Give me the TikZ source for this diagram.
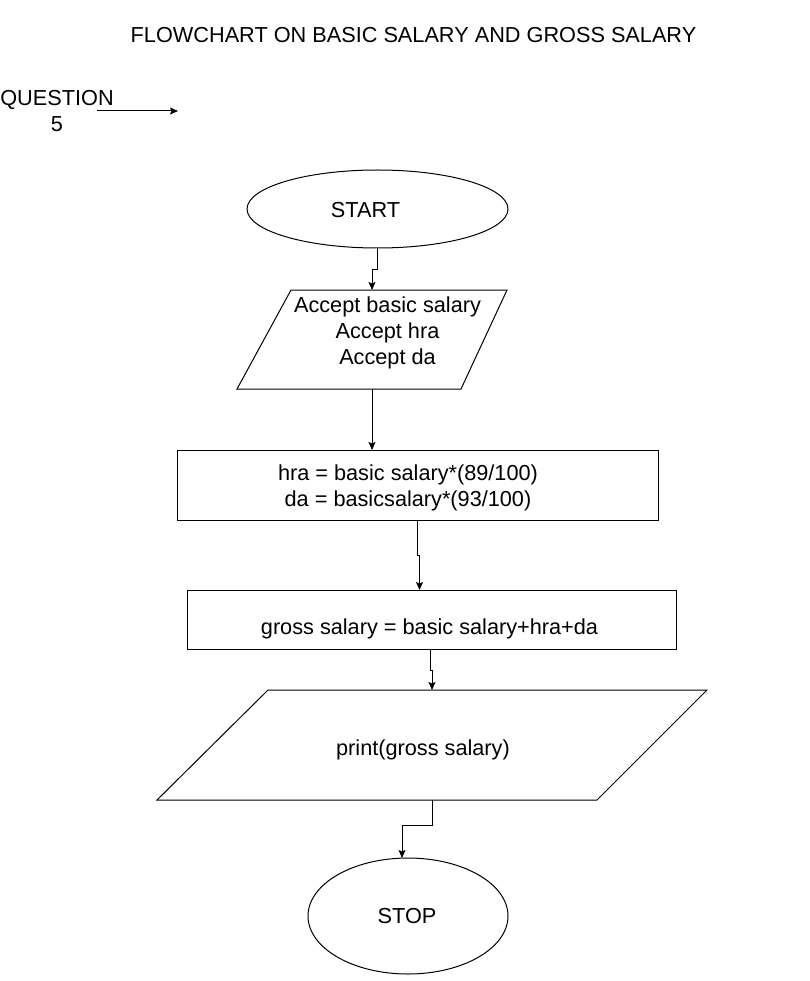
\documentclass[tikz,border=0pt]{standalone}
\usepackage{fontspec}
\setmainfont{Liberation Sans}
\usetikzlibrary{arrows.meta,shapes.geometric}
\begin{document}
\begin{tikzpicture}[x=1pt,y=-1pt,
  txt/.style={font=\fontsize{21.7}{26}\selectfont, inner sep=0pt, align=center},
  shp/.style={draw, line width=1pt, inner sep=0pt, outer sep=0pt},
  conn/.style={draw, line width=1pt, -{Stealth[length=8pt,width=7pt,inset=1.5pt]}}]
\useasboundingbox (0,0) rectangle (809,981);

% title and question label
\node[txt, anchor=base] (title) at (413.5,43) {FLOWCHART ON BASIC SALARY AND GROSS SALARY};
\node[txt, anchor=north] (q) at (57,90) {QUESTION\\5};
\coordinate (qs) at (97,111);
\coordinate (qe) at (178,111);
\draw[conn] (qs) -- (qe);

% shapes
\node[shp, ellipse, minimum width=261pt, minimum height=78pt] (start) at (377.5,209) {};
\node[txt, anchor=base] (starttxt) at (365.5,218) {START};

\draw[line width=1pt] (291,290) coordinate (p1tl) -- (507,290) coordinate (p1tr)
  -- (461,389) coordinate (p1br) -- (237,389) coordinate (p1bl) -- cycle;
\node[txt, anchor=north] (p1txt) at (387.5,296.5) {Accept basic salary\\Accept hra\\Accept da};
\coordinate (p1in) at (372,290);
\coordinate (p1out) at (372,389);

\node[shp, rectangle, minimum width=481pt, minimum height=70pt] (r1) at (417.5,485) {};
\node[txt, anchor=north] (r1txt) at (408,464.5) {hra = basic salary*(89/100)\\da = basicsalary*(93/100)};

\node[shp, rectangle, minimum width=489pt, minimum height=59pt] (r2) at (431.5,619.5) {};
\node[txt, anchor=base] (r2txt) at (429.5,634) {gross salary = basic salary+hra+da};

\draw[line width=1pt] (268,690) coordinate (p2tl) -- (707,690) coordinate (p2tr)
  -- (597,800) coordinate (p2br) -- (157,800) coordinate (p2bl) -- cycle;
\node[txt, anchor=base] (p2txt) at (423,755) {print(gross salary)};
\coordinate (p2in) at (432,690);
\coordinate (p2out) at (432,800);

\node[shp, ellipse, minimum width=200pt, minimum height=116pt] (stop) at (408,916) {};
\node[txt, anchor=base] (stoptxt) at (407,923) {STOP};

% connectors
\draw[conn] (start.south) -- ++(0,22) -| (p1in);
\draw[conn] (p1out) -- (p1out |- r1.north);
\coordinate (r1out) at (417,520);
\coordinate (r2in) at (419.5,590);
\draw[conn] (r1out) -- ++(0,35) -| (r2in);
\coordinate (r2out) at (430,649);
\draw[conn] (r2out) -- ++(0,21) -| (p2in);
\coordinate (stopin) at (402,858);
\draw[conn] (p2out) -- ++(0,25) -| (stopin);
\end{tikzpicture}
\end{document}
